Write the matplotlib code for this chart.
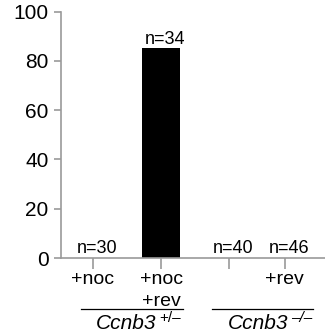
import matplotlib
matplotlib.use("Agg")
import matplotlib.pyplot as plt

plt.rcParams['font.family'] = ['Liberation Sans', 'DejaVu Sans']

positions = [0, 1, 2, 2.82]
values = [0, 85, 0, 0]
n_labels = ["n=30", "n=34", "n=40", "n=46"]
tick_labels = ["+noc", "+noc\n+rev", "", "+rev"]
yticks = [0, 20, 40, 60, 80, 100]
group_names = ["Ccnb3", "Ccnb3"]
group_sups = ["+/–", "–/–"]

W, H = 325, 336
fig = plt.figure(figsize=(W / 100, H / 100), dpi=100)
ax = fig.add_axes([61 / W, 1 - 258 / H, (325 - 61) / W, (258 - 11.5) / H])

ax.bar(positions, values, width=0.56, color='black')
ax.set_ylim(0, 100)
ax.set_xlim(-0.47, 3.41)
ax.set_yticks(yticks)
ax.set_yticklabels([str(v) for v in yticks], fontsize=15)
ax.set_xticks(positions)
ax.set_xticklabels(tick_labels, fontsize=14, linespacing=1.4, va='top')

gray = '#9a9a9a'
for s in ['top', 'right']:
    ax.spines[s].set_visible(False)
for s in ['left', 'bottom']:
    ax.spines[s].set_color(gray)
    ax.spines[s].set_linewidth(1.2)
ax.tick_params(axis='y', colors=gray, length=5, width=1.2, labelcolor='black', pad=4)
ax.tick_params(axis='x', colors=gray, length=8, width=1.2, labelcolor='black', pad=1)

for x, v, t in zip(positions, values, n_labels):
    ax.text(x + 0.06, v + 2, t, ha='center', va='baseline', fontsize=13)

# group underlines and labels (pixel layout)
line_spans = [(81, 183), (212, 313)]
name_right = [156, 288]
for (a, b), nr, name, sup in zip(line_spans, name_right, group_names, group_sups):
    fig.add_artist(plt.Line2D([a / W, b / W], [1 - 309 / H] * 2, color='black', lw=0.9))
    fig.text(nr / W, 1 - 329 / H, name, ha='right', va='baseline',
             fontsize=15, style='italic')
    fig.text((nr + 3) / W, 1 - 322 / H, sup, ha='left', va='baseline',
             fontsize=11, style='italic' if sup.startswith('–') else 'normal')

fig.savefig('out.png', dpi=100)
